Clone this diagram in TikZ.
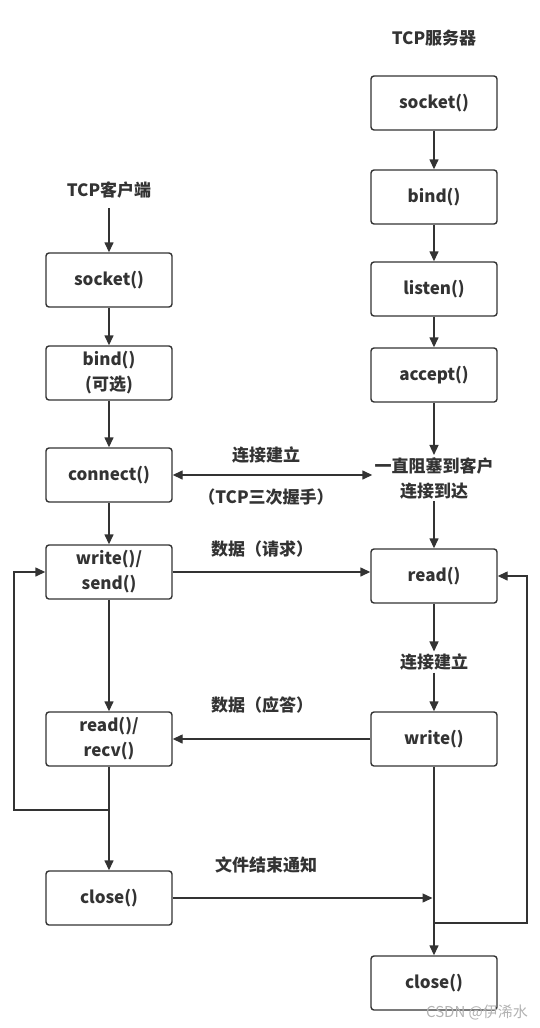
\documentclass[tikz,border=0pt]{standalone}
\usepackage{fontspec}
\setmainfont{Noto Sans CJK SC}
\usetikzlibrary{arrows.meta}
\definecolor{inkgray}{HTML}{333333}

\begin{document}
\begin{tikzpicture}[x=1pt,y=-1pt]
\tikzstyle{every node}=[font=\fontsize{17}{25}\selectfont\bfseries, text=inkgray, align=center, inner sep=2pt]
\tikzstyle{callbox}=[draw=inkgray, line width=1.4pt, rounded corners=3pt, minimum width=126pt, minimum height=54pt]
\tikzstyle{flow}=[draw=inkgray, line width=1.4pt, -{Triangle[length=10pt,width=9pt]}]
\tikzstyle{both}=[flow, {Triangle[length=10pt,width=9pt]}-{Triangle[length=10pt,width=9pt]}]
\useasboundingbox (0,0) rectangle (540,1028);

\node (ctitle) at (109,190) {TCP客户端};
\coordinate (cstart) at (109,208);
\node[callbox] (csocket) at (109,280) {socket()};
\node[callbox] (cbind) at (109,373) {bind()\\(可选)};
\node[callbox] (cconnect) at (109,475) {connect()};
\node[callbox] (csend) at (109,572) {write()/\\send()};
\node[callbox] (crecv) at (109,739) {read()/\\recv()};
\node[callbox] (cclose) at (109,898) {close()};
\coordinate (cjoin) at (109,810);
\coordinate (cloop) at (14,810);

\node (stitle) at (434,38) {TCP服务器};
\node[callbox] (ssocket) at (434,103) {socket()};
\node[callbox] (sbind) at (434,197) {bind()};
\node[callbox] (slisten) at (434,289) {listen()};
\node[callbox] (saccept) at (434,375) {accept()};
\node (swait) at (434,478) {一直阻塞到客户\\连接到达};
\node[callbox] (sread) at (434,576) {read()};
\node (sest) at (434,662) {连接建立};
\node[callbox] (swrite) at (434,739) {write()};
\node[callbox] (sclose) at (434,983) {close()};
\coordinate (sjoin) at (434,923);
\coordinate (sloop) at (527,923);

\node (lconn) at (266,455) {连接建立};
\node (lshake) at (266,497) {（TCP三次握手）};
\node (lreq) at (262,549) {数据（请求）};
\node (lrsp) at (262,705) {数据（应答）};
\node (lfin) at (266,865) {文件结束通知};
\node[font=\fontsize{15}{15}\selectfont, text=gray!60] (mark) at (477,1012) {CSDN @伊浠水};

\draw[flow] (cstart) -- (csocket);
\draw[flow] (csocket) -- (cbind);
\draw[flow] (cbind) -- (cconnect);
\draw[flow] (cconnect) -- (csend);
\draw[flow] (csend) -- (crecv);
\draw[flow] (crecv) -- (cclose);
\draw[flow] (cjoin) -- (cloop) |- (csend.west);

\draw[flow] (ssocket) -- (sbind);
\draw[flow] (sbind) -- (slisten);
\draw[flow] (slisten) -- (saccept);
\draw[flow] (saccept) -- (swait);
\draw[flow] (swait) -- (sread);
\draw[flow] (sread) -- (sest);
\draw[flow] (sest) -- (swrite);
\draw[flow] (swrite) -- (sclose);
\draw[flow] (sjoin) -- (sloop) |- (sread.east);

\draw[both] (cconnect.east) -- (cconnect.east -| swait.west);
\draw[flow] (csend.east) -- (csend.east -| sread.west);
\draw[flow] (swrite) -- (crecv);
\draw[flow, shorten >=1.5pt] (cclose.east) -- (cclose.east -| sjoin);
\end{tikzpicture}
\end{document}
